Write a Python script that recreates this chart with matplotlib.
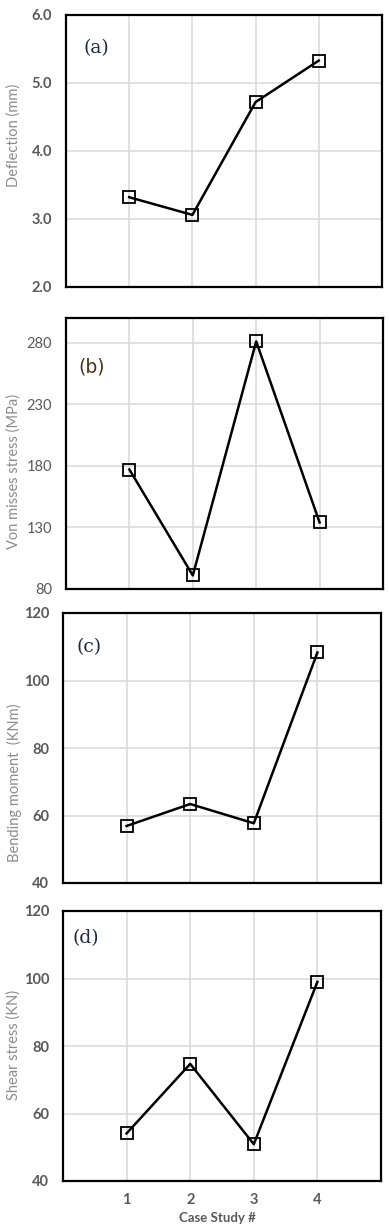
import matplotlib
matplotlib.use("Agg")
import matplotlib.pyplot as plt

case_ids = [1, 2, 3, 4]
deflection = [3.32, 3.06, 4.72, 5.33]
von_mises = [177, 91, 281, 134]
bending_moment = [56.9, 63.4, 57.7, 108.3]
shear_force = [54.1, 74.7, 50.9, 99.0]

panel_tags = ["(a)", "(b)", "(c)", "(d)"]
y_labels = ["Deflection (mm)", "Von misses stress (MPa)",
            "Bending moment  (KNm)", "Shear stress (KN)"]
y_ticks = [[2.0, 3.0, 4.0, 5.0, 6.0],
           [80, 130, 180, 230, 280],
           [40, 60, 80, 100, 120],
           [40, 60, 80, 100, 120]]
y_limits = [(2.0, 6.0), (80, 300), (40, 120), (40, 120)]
tick_formats = ["{:.1f}", "{:d}", "{:d}", "{:d}"]

W, H = 389, 1225
fig = plt.figure(figsize=(W / 100, H / 100), dpi=100)

# axes boxes in pixels: left, top, right, bottom
boxes = [(66, 15, 382, 287), (66, 318, 383, 589),
         (63, 613, 381, 883), (63, 911, 381, 1181)]
label_y = [135, 471, 783, 1045]
tag_pos = [(0.054, 0.88), (0.038, 0.82), (0.044, 0.874), (0.03, 0.9)]
tag_font = ["serif", "sans-serif", "serif", "serif"]
tag_color = ["#1f2a44", "#4a3518", "#1f2a44", "#1f2a44"]

series = [deflection, von_mises, bending_moment, shear_force]
grey = "#595959"

for i, vals in enumerate(series):
    l, t, r, b = boxes[i]
    ax = fig.add_axes([l / W, 1 - b / H, (r - l) / W, (b - t) / H])
    ax.plot(case_ids, vals, color="black", lw=1.8, marker="s", ms=8,
            mfc="none", mec="black", mew=1.3, zorder=3)
    ax.set_xlim(0, 5)
    ax.set_ylim(*y_limits[i])
    ax.set_yticks(y_ticks[i])
    ax.set_yticklabels([tick_formats[i].format(v) for v in y_ticks[i]],
                       fontfamily="Lato",
                       fontweight="normal" if i == 1 else "bold")
    ax.set_xticks(case_ids)
    ax.grid(True, color="#d9d9d9", lw=1.1)
    ax.set_axisbelow(True)
    ax.tick_params(length=0, labelsize=10.5, colors=grey, pad=10)
    if i < 3:
        ax.set_xticklabels([])
    else:
        ax.set_xticklabels([str(c) for c in case_ids], fontfamily="Lato",
                           fontweight="bold")
        ax.tick_params(axis="x", pad=9)
    for s in ax.spines.values():
        s.set_color("black")
        s.set_linewidth(1.6)
    ax.text(tag_pos[i][0], tag_pos[i][1], panel_tags[i],
            transform=ax.transAxes, ha="left", va="center",
            fontsize=13.5, family=tag_font[i], color=tag_color[i])
    fig.text(14 / W, 1 - label_y[i] / H, y_labels[i], rotation=90,
             ha="center", va="center", fontsize=10.5, family="Lato",
             color="#8c8c8c")

fig.text(217 / W, 1 - 1218 / H, "Case Study #", ha="center", va="center",
         fontsize=9.5, family="Lato", fontweight="bold", color=grey)

fig.savefig("out.png", dpi=100)
